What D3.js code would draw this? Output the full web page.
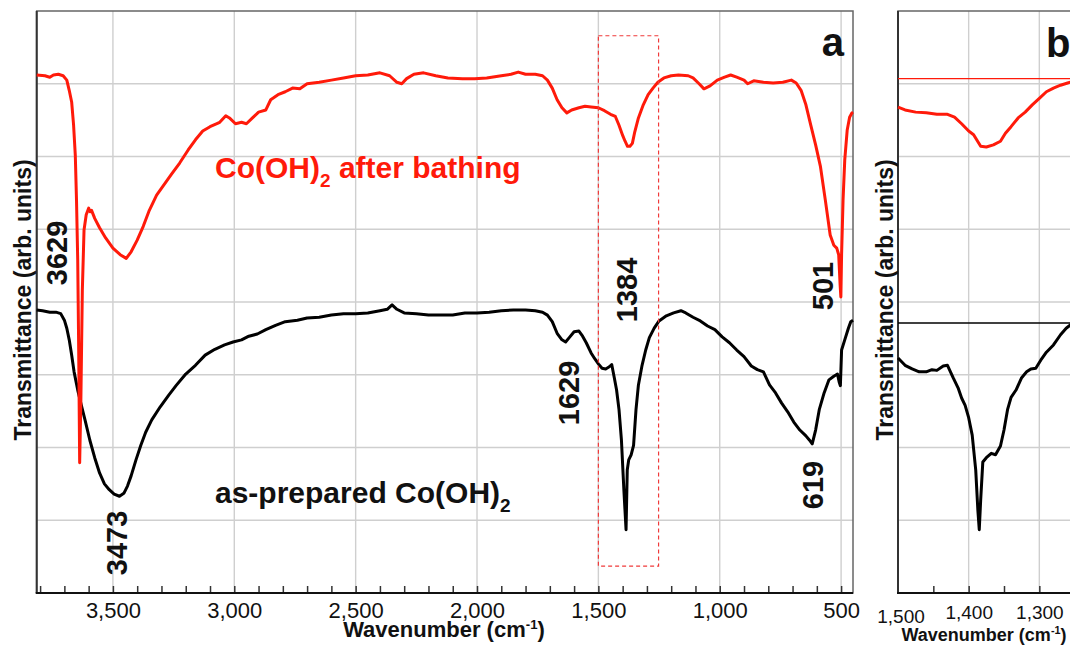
<!DOCTYPE html>
<html>
<head>
<meta charset="utf-8">
<script src="https://cdn.jsdelivr.net/npm/d3@7"></script>
<style>
	body { margin: 0; background: #fff; }
	svg { display: block; font-family: 'Liberation Sans', Arial, sans-serif; }
</style>
</head>
<body>
<script>
// FTIR spectra, [wavenumber cm-1, transmittance arb. units]
const afterBathing = [
	[3814, 7.12], [3780, 7.11], [3760, 7.09], [3745, 7.12], [3725, 7.13], [3705, 7.11], [3690, 7.05],
	[3680, 6.91], [3670, 6.75], [3662, 6.43], [3655, 6.02], [3650, 5.40], [3645, 4.58], [3641, 3.34],
	[3637, 1.79], [3632, 2.65], [3626, 4.16], [3619, 4.99], [3610, 5.20], [3600, 5.29], [3594, 5.24],
	[3588, 5.26], [3575, 5.15], [3555, 5.02], [3530, 4.88], [3500, 4.74], [3470, 4.65], [3445, 4.60],
	[3425, 4.69], [3400, 4.85], [3375, 5.04], [3350, 5.26], [3320, 5.47], [3290, 5.61], [3260, 5.75],
	[3225, 5.91], [3190, 6.09], [3160, 6.23], [3130, 6.35], [3100, 6.41], [3060, 6.47], [3035, 6.56],
	[3020, 6.53], [2995, 6.45], [2970, 6.47], [2950, 6.45], [2925, 6.53], [2900, 6.61], [2870, 6.64],
	[2850, 6.78], [2820, 6.85], [2790, 6.89], [2760, 6.94], [2730, 6.93], [2700, 7.00], [2650, 7.02],
	[2600, 7.05], [2550, 7.08], [2500, 7.11], [2450, 7.12], [2400, 7.15], [2360, 7.11], [2330, 7.02],
	[2310, 7.00], [2290, 7.07], [2260, 7.13], [2220, 7.15], [2170, 7.11], [2120, 7.08], [2060, 7.07],
	[2010, 7.07], [1960, 7.08], [1900, 7.11], [1860, 7.13], [1830, 7.16], [1800, 7.13], [1760, 7.13],
	[1730, 7.11], [1710, 7.05], [1690, 6.94], [1670, 6.78], [1650, 6.67], [1630, 6.60], [1610, 6.64],
	[1580, 6.67], [1555, 6.69], [1530, 6.68], [1500, 6.67], [1475, 6.63], [1450, 6.58], [1430, 6.55],
	[1415, 6.43], [1400, 6.29], [1390, 6.21], [1380, 6.14], [1370, 6.14], [1360, 6.18], [1350, 6.34],
	[1335, 6.53], [1315, 6.71], [1295, 6.85], [1275, 6.94], [1255, 7.02], [1230, 7.08], [1200, 7.11],
	[1170, 7.12], [1130, 7.11], [1110, 7.08], [1085, 7.00], [1065, 6.93], [1040, 6.97], [1010, 7.05],
	[980, 7.09], [955, 7.12], [930, 7.09], [900, 7.05], [885, 7.00], [860, 7.04], [820, 7.02],
	[780, 7.01], [740, 7.02], [705, 7.05], [685, 7.01], [665, 6.91], [645, 6.71], [625, 6.43],
	[605, 6.16], [585, 5.86], [565, 5.40], [545, 4.92], [530, 4.78], [518, 4.74], [510, 4.65],
	[504, 4.23], [501, 4.07], [498, 4.65], [492, 5.40], [485, 5.95], [475, 6.36], [465, 6.54],
	[455, 6.60], [451, 6.61]
]

const asPrepared = [
	[3814, 3.89], [3790, 3.88], [3760, 3.86], [3735, 3.86], [3715, 3.84], [3700, 3.75], [3690, 3.64],
	[3680, 3.48], [3670, 3.27], [3660, 3.04], [3645, 2.79], [3630, 2.58], [3615, 2.38], [3595, 2.10],
	[3575, 1.86], [3555, 1.65], [3535, 1.50], [3515, 1.42], [3495, 1.36], [3473, 1.33], [3455, 1.37],
	[3440, 1.47], [3425, 1.61], [3405, 1.83], [3385, 2.03], [3365, 2.21], [3340, 2.38], [3305, 2.56],
	[3270, 2.72], [3240, 2.85], [3200, 3.01], [3160, 3.13], [3120, 3.27], [3080, 3.35], [3040, 3.41],
	[3005, 3.45], [2970, 3.48], [2940, 3.53], [2905, 3.56], [2870, 3.62], [2830, 3.68], [2790, 3.73],
	[2740, 3.75], [2700, 3.78], [2650, 3.79], [2600, 3.82], [2550, 3.84], [2500, 3.84], [2450, 3.85],
	[2400, 3.88], [2370, 3.90], [2350, 3.96], [2330, 3.90], [2300, 3.85], [2250, 3.84], [2200, 3.82],
	[2150, 3.82], [2100, 3.82], [2050, 3.85], [2000, 3.85], [1950, 3.86], [1900, 3.88], [1850, 3.89],
	[1800, 3.89], [1760, 3.88], [1730, 3.86], [1710, 3.82], [1690, 3.73], [1670, 3.57], [1650, 3.48],
	[1635, 3.45], [1620, 3.51], [1600, 3.59], [1580, 3.60], [1565, 3.53], [1550, 3.44], [1530, 3.30],
	[1515, 3.22], [1500, 3.15], [1485, 3.09], [1470, 3.08], [1455, 3.11], [1445, 3.14], [1435, 2.97],
	[1425, 2.79], [1415, 2.52], [1405, 2.10], [1395, 1.42], [1386, 0.87], [1381, 1.69], [1375, 1.83],
	[1365, 1.90], [1355, 2.03], [1345, 2.52], [1335, 2.86], [1320, 3.13], [1305, 3.34], [1290, 3.51],
	[1270, 3.64], [1250, 3.74], [1220, 3.81], [1190, 3.85], [1160, 3.88], [1140, 3.85], [1110, 3.79],
	[1080, 3.74], [1050, 3.67], [1020, 3.62], [990, 3.52], [960, 3.44], [930, 3.34], [900, 3.25],
	[870, 3.12], [845, 3.07], [820, 3.04], [795, 2.86], [770, 2.75], [745, 2.61], [720, 2.49],
	[695, 2.35], [670, 2.24], [645, 2.16], [630, 2.10], [619, 2.05], [605, 2.24], [590, 2.52],
	[570, 2.75], [550, 2.93], [530, 2.98], [515, 3.01], [508, 2.90], [503, 2.85], [498, 3.34],
	[485, 3.48], [470, 3.64], [460, 3.73], [451, 3.75]
]

const zoomAfter = [
	[1500, 6.68], [1490, 6.64], [1475, 6.61], [1460, 6.60], [1445, 6.58], [1430, 6.58], [1420, 6.54],
	[1410, 6.45], [1400, 6.35], [1393, 6.30], [1388, 6.22], [1383, 6.14], [1375, 6.13], [1365, 6.16],
	[1355, 6.21], [1348, 6.32], [1340, 6.41], [1330, 6.53], [1320, 6.61], [1310, 6.71], [1300, 6.80],
	[1290, 6.89], [1280, 6.94], [1270, 6.98], [1260, 7.01], [1250, 7.04], [1240, 7.05]
]

const zoomPrepared = [
	[1500, 3.23], [1490, 3.13], [1480, 3.08], [1470, 3.04], [1460, 3.04], [1452, 3.07], [1445, 3.06],
	[1436, 3.12], [1430, 3.13], [1422, 2.96], [1415, 2.82], [1410, 2.68], [1405, 2.58], [1400, 2.41],
	[1395, 2.17], [1390, 1.69], [1387, 1.14], [1385, 0.87], [1383, 1.28], [1380, 1.80], [1375, 1.86],
	[1368, 1.92], [1362, 1.90], [1355, 2.02], [1350, 2.24], [1345, 2.52], [1340, 2.69], [1333, 2.79],
	[1325, 2.96], [1318, 3.04], [1312, 3.08], [1305, 3.09], [1298, 3.20], [1290, 3.31], [1280, 3.41],
	[1270, 3.55], [1262, 3.64], [1250, 3.73], [1240, 3.78]
]

// reference levels drawn across panel b
const zoomBaselines = [7.07, 3.71]
// wavenumber window shown in panel b, and its transmittance span in panel a
const zoomWindow = [1500, 1252]
const zoomSpan = [0.37, 7.66]

const ticksA = [3500, 3000, 2500, 2000, 1500, 1000, 500]
const ticksB = [1500, 1400, 1300]
const peaksAfter = ['3629', '1384', '501']
const peaksPrepared = ['3473', '1629', '619']

const W = 1070
const H = 647
const plotTop = 11
const plotBottom = 593
const red = '#ff1a0a'

const svg = d3.select('body').append('svg').attr('width', W).attr('height', H)

const y = d3.scaleLinear().domain([0, 8]).range([plotBottom, plotTop])
const xA = d3.scaleLinear().domain([3814, 451]).range([36.7, 853])
const xB = d3.scaleLinear().domain([1500, 1200]).range([898, 1110])

function panel(x, left, right, majors, minorStep, fontSize, padding) {
	const g = svg.append('g')
	const [d0, d1] = x.domain()
	// grid
	g.selectAll('.vgrid').data(majors.filter(v => x(v) > left + 2 && x(v) < right - 2))
		.join('line')
		.attr('x1', d => x(d)).attr('x2', d => x(d))
		.attr('y1', plotTop).attr('y2', plotBottom)
		.attr('stroke', '#cfcfcf').attr('stroke-width', 1.4)
	g.selectAll('.hgrid').data(d3.range(1, 8))
		.join('line')
		.attr('x1', left).attr('x2', right)
		.attr('y1', d => y(d)).attr('y2', d => y(d))
		.attr('stroke', '#cfcfcf').attr('stroke-width', 1.4)
	// frame
	g.append('rect')
		.attr('x', left).attr('y', plotTop)
		.attr('width', right - left).attr('height', plotBottom - plotTop)
		.attr('fill', 'none').attr('stroke', '#666').attr('stroke-width', 1.5)
	g.append('line')
		.attr('x1', left).attr('x2', left).attr('y1', plotTop).attr('y2', plotBottom)
		.attr('stroke', '#333').attr('stroke-width', 2)
	// axis
	const minors = d3.range(Math.ceil(Math.min(d0, d1) / minorStep) * minorStep, Math.max(d0, d1) + 1, minorStep)
	const axis = d3.axisBottom(x)
		.tickValues(minors.filter(v => x(v) > left + 3 && x(v) < right - 1))
		.tickSize(-7)
		.tickPadding(padding)
		.tickFormat(v => majors.includes(v) ? d3.format(',')(v) : '')
	const ax = g.append('g').attr('transform', `translate(0,${plotBottom})`).call(axis)
	ax.select('.domain').remove()
	ax.selectAll('.tick line').attr('stroke', '#333').attr('stroke-width', 1.5)
	ax.selectAll('.tick text')
		.attr('fill', '#111')
		.style('font-size', fontSize + 'px')
		.style('font-family', "'Liberation Sans', Arial, sans-serif")
	g.append('line')
		.attr('x1', left - 1).attr('x2', right).attr('y1', plotBottom).attr('y2', plotBottom)
		.attr('stroke', '#111').attr('stroke-width', 2)
	return g
}

const gA = panel(xA, 36.7, 853, ticksA, 100, 22, 9)
const gB = panel(xB, 898, 1110, ticksB, 50, 19, 13)
// the 1500 tick of panel b sits on the frame edge, so its label is added by hand
gB.append('text')
	.attr('x', xB(ticksB[0]) + 3).attr('y', 623)
	.attr('text-anchor', 'middle')
	.attr('font-size', 19).attr('fill', '#111')
	.text(d3.format(',')(ticksB[0]))

// spectra
function trace(g, x, data, color) {
	g.append('path')
		.datum(data)
		.attr('fill', 'none')
		.attr('stroke', color)
		.attr('stroke-width', 3)
		.attr('stroke-linejoin', 'round')
		.attr('d', d3.line().x(d => x(d[0])).y(d => y(d[1])))
}

trace(gA, xA, asPrepared, '#000')
trace(gA, xA, afterBathing, red)

// panel b reference lines
gB.selectAll('.base').data(zoomBaselines)
	.join('line')
	.attr('x1', xB(1500)).attr('x2', W)
	.attr('y1', d => y(d)).attr('y2', d => y(d))
	.attr('stroke', (d, i) => i === 0 ? red : '#000')
	.attr('stroke-width', (d, i) => i === 0 ? 1.3 : 1.5)

trace(gB, xB, zoomPrepared, '#000')
trace(gB, xB, zoomAfter, red)

// dashed window in panel a
gA.append('rect')
	.attr('x', xA(zoomWindow[0])).attr('y', y(zoomSpan[1]))
	.attr('width', xA(zoomWindow[1]) - xA(zoomWindow[0]))
	.attr('height', y(zoomSpan[0]) - y(zoomSpan[1]))
	.attr('fill', 'none')
	.attr('stroke', '#f03a3a')
	.attr('stroke-width', 1.2)
	.attr('stroke-dasharray', '4,3')

// peak labels, rotated
const peakLayout = {
	'3629': { dx: -14.6, cy: 253 },
	'3473': { dx: 7.5, cy: 543 },
	'1384': { dx: 10.5, cy: 290 },
	'1629': { dx: 12, cy: 393 },
	'501': { dx: -7.5, cy: 286 },
	'619': { dx: 11, cy: 485 }
}
gA.selectAll('.peak').data(peaksAfter.concat(peaksPrepared))
	.join('text')
	.attr('transform', d => `translate(${xA(+d) + peakLayout[d].dx},${peakLayout[d].cy}) rotate(-90)`)
	.attr('text-anchor', 'middle')
	.attr('font-size', 29)
	.attr('font-weight', 'bold')
	.attr('fill', '#111')
	.text(d => d)

// series names
function seriesName(g, x, yb, pre, post, color) {
	const t = g.append('text')
		.attr('x', x).attr('y', yb)
		.attr('font-size', 30).attr('font-weight', 'bold')
		.attr('fill', color)
	t.append('tspan').text(pre)
	t.append('tspan').attr('dy', 9).attr('font-size', 19).text('2')
	if (post) t.append('tspan').attr('dy', -9).text(post)
}
seriesName(gA, 215, 178, 'Co(OH)', ' after bathing', red)
seriesName(gA, 215, 503, 'as-prepared Co(OH)', '', '#111')

// panel letters
svg.append('text').attr('x', 844).attr('y', 56).attr('text-anchor', 'end')
	.attr('font-size', 40).attr('font-weight', 'bold').attr('fill', '#111').text('a')
svg.append('text').attr('x', 1046).attr('y', 57)
	.attr('font-size', 40).attr('font-weight', 'bold').attr('fill', '#111').text('b')

// axis titles
function xTitle(cx, yb, size) {
	const t = svg.append('text')
		.attr('x', cx).attr('y', yb)
		.attr('text-anchor', 'middle')
		.attr('font-size', size).attr('font-weight', 'bold').attr('fill', '#111')
	t.append('tspan').text('Wavenumber (cm')
	t.append('tspan').attr('dy', -size * 0.38).attr('font-size', size * 0.6).text('-1')
	t.append('tspan').attr('dy', size * 0.38).text(')')
}
xTitle(444, 637, 22)
xTitle(984, 641, 18)

function yTitle(cx, cy) {
	svg.append('text')
		.attr('transform', `translate(${cx},${cy}) rotate(-90)`)
		.attr('text-anchor', 'middle')
		.attr('font-size', 23).attr('font-weight', 'bold').attr('fill', '#111')
		.text('Transmittance (arb. units)')
}
yTitle(31, 300)
yTitle(893, 300)
</script>
</body>
</html>
